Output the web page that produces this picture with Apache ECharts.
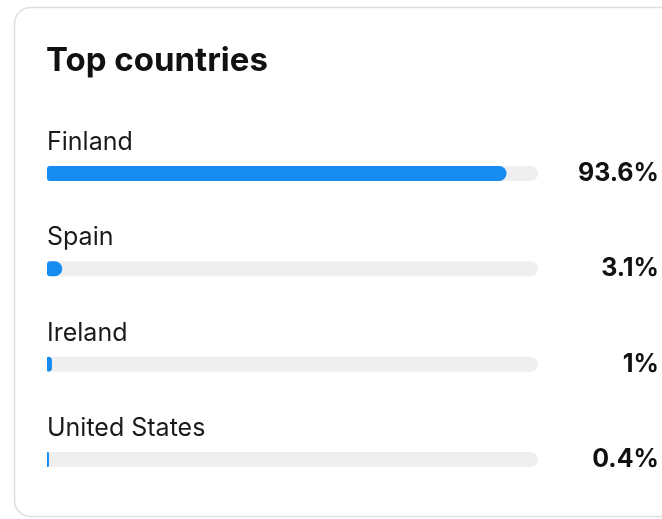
<!DOCTYPE html>
<html>
<head>
<meta charset="utf-8">
<script src="https://cdn.jsdelivr.net/npm/echarts@6/dist/echarts.min.js"></script>
<style>
  html, body { margin: 0; padding: 0; background: #fff; }
  #chart { width: 662px; height: 519px; }
</style>
</head>
<body>
<div id="chart"></div>
<script>
const countries = ["Finland", "Spain", "Ireland", "United States"];
const shares = [93.6, 3.1, 1, 0.4];
const shareLabels = shares.map((v) => v + "%");

const chart = echarts.init(document.getElementById("chart"));

const option = {
  animation: false,
  textStyle: { fontFamily: "Inter" },
  title: {
    text: "Top countries",
    left: 41,
    top: 40,
    textStyle: { fontSize: 33, fontWeight: "bold", color: "#111", fontFamily: "Inter" },
  },
  graphic: [
    {
      type: "rect",
      shape: { x: 14.5, y: 7.5, width: 720, height: 509, r: 16 },
      style: { fill: "none", stroke: "#dedede", lineWidth: 1.5 },
      z: -1,
    },
  ],
  grid: { left: 47, right: 124, top: 125.75, bottom: 11.75 },
  xAxis: {
    type: "value",
    min: 0,
    max: 100,
    show: false,
  },
  yAxis: [
    {
      type: "category",
      data: countries,
      inverse: true,
      axisLine: { show: false },
      axisTick: { show: false },
      axisLabel: { show: false },
    },
    {
      type: "category",
      position: "right",
      data: shareLabels,
      inverse: true,
      axisLine: { show: false },
      axisTick: { show: false },
      axisLabel: {
        align: "right",
        margin: 121,
        fontSize: 25,
        fontWeight: "bold",
        color: "#111",
      },
    },
  ],
  series: [
    {
      type: "bar",
      yAxisIndex: 0,
      data: shares,
      barWidth: 15,
      itemStyle: { color: "#168cf1", borderRadius: [3, 8, 8, 3] },
      showBackground: true,
      backgroundStyle: { color: "#efefef", borderRadius: [3, 8, 8, 3] },
      label: {
        show: true,
        position: [0, -11],
        align: "left",
        verticalAlign: "bottom",
        fontSize: 25,
        color: "#1a1a1a",
        formatter: (p) => countries[p.dataIndex],
      },
    },
  ],
};

chart.setOption(option);
</script>
</body>
</html>
